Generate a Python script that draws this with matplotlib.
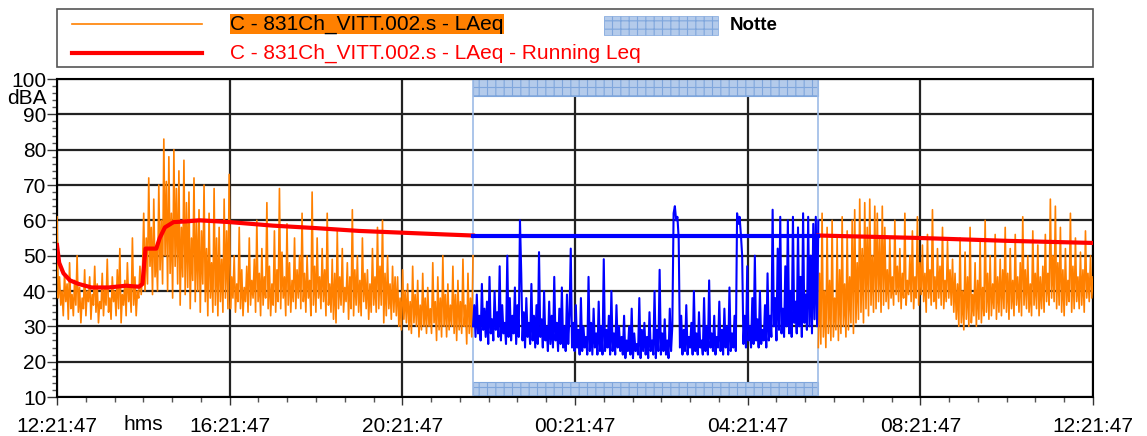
import numpy as np
import matplotlib
matplotlib.use("Agg")
import matplotlib.pyplot as plt
from matplotlib.patches import Rectangle
from matplotlib.lines import Line2D
from matplotlib.transforms import blended_transform_factory

plt.rcParams['font.family'] = ['Liberation Sans', 'DejaVu Sans']
plt.rcParams['hatch.color'] = '#7fa6dc'
plt.rcParams['hatch.linewidth'] = 0.8

# hours after 12:21:47
night_start = 9.637   # 22:00
night_end = 17.637    # 06:00

# LAeq, afternoon/evening (12:21:47 -> 22:00)
laeq_day1 = [
    61, 38, 44, 36, 40, 33, 45, 37, 42, 32, 48, 35, 39, 33, 43, 36, 50, 34, 41, 31,
    38, 35, 46, 33, 40, 37, 44, 32, 39, 36, 47, 34, 42, 31, 37, 35, 45, 33, 41, 36,
    49, 34, 38, 32, 44, 37, 40, 33, 46, 35, 52, 31, 39, 36, 43, 33, 48, 37, 41, 34,
    55, 36, 44, 33, 40, 38, 47, 39,
    45, 62, 40, 55, 42, 72, 47, 58, 39, 66, 44, 52, 40, 70,
    46, 60, 42, 83, 50, 71, 40, 78, 45, 62, 38, 80, 47, 69, 42, 74, 36, 58, 44, 77,
    39, 65, 41, 68, 35, 55, 43, 72, 37, 60, 40, 63, 34, 57, 42, 70,
    37, 52, 33, 62, 38, 48, 34, 69, 36, 55, 33, 58, 37, 49, 34, 66, 38, 57, 35, 73,
    35, 44, 38, 50, 34, 42, 37, 58, 35, 46, 33, 41, 37, 47, 34, 55, 36, 43, 38, 49,
    34, 60, 37, 45, 33, 52, 36, 44, 38, 65, 35, 47, 33, 42, 36, 57, 34, 46, 37, 69,
    35, 51, 38, 44, 33, 59, 36, 48, 34, 43, 37, 55, 35, 46, 38, 50,
    35, 62, 37, 45, 34, 50, 38, 43, 33, 68, 36, 47, 34, 55, 38, 44, 35, 52, 37, 46,
    33, 62, 36, 42, 34, 49, 32, 45, 31, 57, 35, 44, 36, 52, 34, 41, 37, 48, 32, 44,
    35, 63, 33, 46, 36, 50, 34, 43, 33, 55, 37, 45, 35, 46, 32, 42, 34, 52, 36, 44,
    34, 58, 35, 47, 36, 60, 31, 45, 33, 50, 35, 42, 32, 47, 34, 44,
    33, 44, 30, 38, 29, 46, 32, 40, 31, 42, 29, 37, 28, 47, 31, 39, 30, 43, 27, 36,
    29, 45, 30, 38, 28, 41, 30, 35, 28, 48, 31, 37, 26, 44, 29, 38, 27, 50, 30, 39,
    27, 42, 29, 36, 30, 47, 28, 39, 26, 43, 29, 37, 28, 49, 30, 36, 25, 45, 28, 38, 27, 50]

# LAeq, night (22:00 -> 06:00)
laeq_night = [
    30, 36, 27, 39, 28, 33, 26, 42, 29, 35, 27, 37, 25, 44, 28, 32, 26, 40, 29, 34,
    27, 47, 26, 36, 28, 31, 25, 50, 27, 38, 26, 33, 28, 41, 25, 36, 27,
    60, 45,
    26, 34, 24, 38, 27, 31, 25, 42, 26, 33, 24, 36, 25, 51, 27, 32, 24, 40, 26, 30,
    23, 37, 25, 33, 24, 44, 26, 31, 23, 35, 25, 41, 24, 30, 23, 39, 25, 33,
    52,
    24, 31, 23, 36, 24, 29, 22, 38, 23, 30, 24, 27, 22, 44, 23, 31, 22, 35, 24, 28,
    22, 37, 23, 30, 22, 49, 23, 29, 24, 33, 22, 40, 23, 28, 22, 36, 24, 30, 23,
    27, 22, 33, 21, 26, 23, 30, 22, 35, 21, 28, 23, 25, 22, 38, 21, 29, 23, 31, 22,
    27, 21, 34, 23, 26, 22, 40, 21, 29, 23, 46, 22, 28, 23, 32, 22, 26, 21, 35, 23, 30,
    62, 64, 60, 61, 55,
    24, 33, 22, 29, 23, 36, 22, 27, 24, 31, 22, 40, 23, 28, 22, 34, 24, 26, 22, 38,
    23, 30, 22, 43, 24, 28, 23, 33, 22, 27, 24, 37, 23, 29, 22, 35, 24, 30, 22, 41,
    23, 28, 24, 33, 23,
    62, 59, 61, 56, 50,
    25, 33, 24, 47, 26, 30, 24, 38, 25, 50, 26, 32, 24, 40, 25, 29, 26, 36, 24, 45, 26, 33,
    27, 63, 30, 38, 26, 52, 29, 61, 28, 35, 27, 47, 30, 60, 28, 40, 27, 61, 31, 37,
    28, 58, 30, 44, 27, 62, 31, 39, 29, 61, 30, 50, 28, 59, 32, 61, 30, 60]

# LAeq, morning (06:00 -> 12:21:47)
laeq_day2 = [
    24, 45, 25, 62, 27, 40, 24, 58, 28, 43, 26, 60, 27, 38, 29, 55, 26, 46, 28, 61,
    30, 42, 27, 57, 29, 44, 31, 60, 28, 63,
    31, 48, 32, 66, 34, 52, 31, 65, 35, 58, 33, 66, 36, 50, 34, 64, 35, 62, 37, 55,
    34, 64, 36, 58,
    37, 46, 35, 55, 38, 44, 36, 60, 39, 47, 37, 52, 35, 45, 38, 62, 36, 43, 39, 50,
    37, 57, 35, 44, 38, 61, 36, 48, 39, 53, 37, 45, 34, 56, 38, 46, 36, 63, 37, 44,
    35, 52, 38, 47, 36, 58, 35, 43, 37, 54, 38, 46, 36, 49, 34, 45,
    32, 42, 30, 55, 31, 40, 29, 51, 32, 44, 30, 58, 31, 39, 33, 48, 30, 43, 32, 54,
    31, 41, 33, 60, 34, 45, 32, 50, 33, 42, 35, 56, 32, 44, 34, 49, 33, 46, 35, 58,
    34, 45, 32, 52, 35, 43, 33, 56, 36, 44, 34, 48, 33, 61, 36, 46, 35, 50, 34, 42,
    33, 57, 36, 45, 35, 53, 33, 44, 35, 47, 34, 56, 37, 45, 36, 66, 38, 50, 37, 64,
    35, 48, 36, 58, 34, 46, 33, 52, 36, 43, 37, 62, 34, 47, 35, 55, 37, 44, 35, 51,
    36, 46, 34, 57, 38, 45, 37, 50, 38, 44]

# Running Leq
leq1_t = [0, 0.05, 0.15, 0.3, 0.5, 0.8, 1.2, 1.6, 1.9, 1.98, 2.05, 2.3, 2.38, 2.5,
          2.7, 3.0, 3.3, 4.0, 5.0, 6.0, 7.0, 8.0, 9.0, night_start]
leq1_v = [53, 48, 45, 43, 42, 41, 41, 41.5, 41.2, 42, 52, 52, 55, 58,
          59.5, 59.7, 60, 59.5, 58.5, 57.8, 57, 56.5, 56, 55.7]
leq_night_t = [night_start, night_end]
leq_night_v = [55.7, 55.7]
leq2_t = [night_end, 19, 20, 21, 22, 23, 24]
leq2_v = [55.7, 55.3, 55.0, 54.6, 54.2, 53.9, 53.6]

tick_hours = [0, 4, 8, 12, 16, 20, 24]
tick_labels = ['12:21:47', '16:21:47', '20:21:47', '00:21:47', '04:21:47', '08:21:47', '12:21:47']

ORANGE = '#ff8000'
BAND = '#b4cbeb'
FS = 15

fig = plt.figure(figsize=(11.47, 4.36), dpi=100)
ax = fig.add_axes([57/1147, 1 - 397/436, (1093 - 57)/1147, (397 - 79)/436])

t1 = np.linspace(0, night_start, len(laeq_day1))
tn = np.linspace(night_start, night_end, len(laeq_night))
t2 = np.linspace(night_end, 24, len(laeq_day2))

ax.plot(t1, laeq_day1, color=ORANGE, lw=1.2, zorder=3)
ax.plot(t2, laeq_day2, color=ORANGE, lw=1.2, zorder=3)
ax.plot(tn, laeq_night, color='#0000ff', lw=1.5, zorder=3)
ax.plot(leq1_t, leq1_v, color='#ff0000', lw=3, zorder=4)
ax.plot(leq2_t, leq2_v, color='#ff0000', lw=3, zorder=4)
ax.plot(leq_night_t, leq_night_v, color='#0000ff', lw=3, zorder=4)

# night bands
for y0, h in [(95.2, 4.8), (10, 4.3)]:
    ax.add_patch(Rectangle((night_start, y0), night_end - night_start, h,
                           facecolor=BAND, edgecolor='#7fa6dc', hatch='++', lw=0.8, zorder=2))
for xv in [night_start, night_end]:
    ax.axvline(xv, color='#9dbbe6', lw=1.2, zorder=2)

ax.set_xlim(0, 24)
ax.set_ylim(10, 100)
ax.set_xticks(tick_hours)
ax.set_xticklabels(tick_labels, fontsize=FS)
ax.set_xticks(np.arange(0, 24.01, 2/3), minor=True)
ax.set_yticks(np.arange(10, 101, 10))
ax.set_yticklabels([str(v) for v in range(10, 101, 10)], fontsize=FS)
ax.set_yticks(np.arange(10, 101, 2), minor=True)
ax.tick_params(axis='x', which='major', length=5.8, width=1, color='#333333', pad=8.5)
ax.tick_params(axis='x', which='minor', length=3.6, width=1, color='#555555')
ax.tick_params(axis='y', which='major', length=7.2, width=1, color='#333333', pad=0.5)
ax.tick_params(axis='y', which='minor', length=3.6, width=1, color='#555555')
ax.grid(True, which='major', color='#222222', lw=1.6, zorder=1)
for s in ax.spines.values():
    s.set_color('black')
    s.set_linewidth(1.5)
ax.set_axisbelow(True)

ax.text(-0.25, 94.6, 'dBA', fontsize=FS, ha='right', va='center')
tr = blended_transform_factory(ax.transData, fig.transFigure)
ax.text(2, 1 - 424/436, 'hms', fontsize=FS, ha='center', va='center', transform=tr)

# legend
fig.patches.append(Rectangle((57/1147, 1 - 67/436), (1093 - 57)/1147, 58/436,
                             transform=fig.transFigure, facecolor='white',
                             edgecolor='#555555', lw=1.2))
fig.lines.append(Line2D([72/1147, 202/1147], [1 - 24/436] * 2, color=ORANGE, lw=1.2,
                        transform=fig.transFigure))
fig.lines.append(Line2D([72/1147, 202/1147], [1 - 53/436] * 2, color='#ff0000', lw=3,
                        transform=fig.transFigure))
fig.text(230/1147, 1 - 24/436, 'C - 831Ch_VITT.002.s - LAeq', fontsize=FS, va='center',
         color='black', bbox=dict(facecolor=ORANGE, edgecolor='none', pad=0.3))
fig.text(230/1147, 1 - 53/436, 'C - 831Ch_VITT.002.s - LAeq - Running Leq', fontsize=FS,
         va='center', color='#ff0000')
fig.patches.append(Rectangle((604/1147, 1 - 35/436), 114/1147, 19/436,
                             transform=fig.transFigure, facecolor=BAND,
                             edgecolor='#7fa6dc', hatch='++', lw=0.5))
fig.text(730/1147, 1 - 25/436, 'Notte', fontsize=13.5, va='center', fontweight='bold')

fig.savefig('out.png', dpi=100)
